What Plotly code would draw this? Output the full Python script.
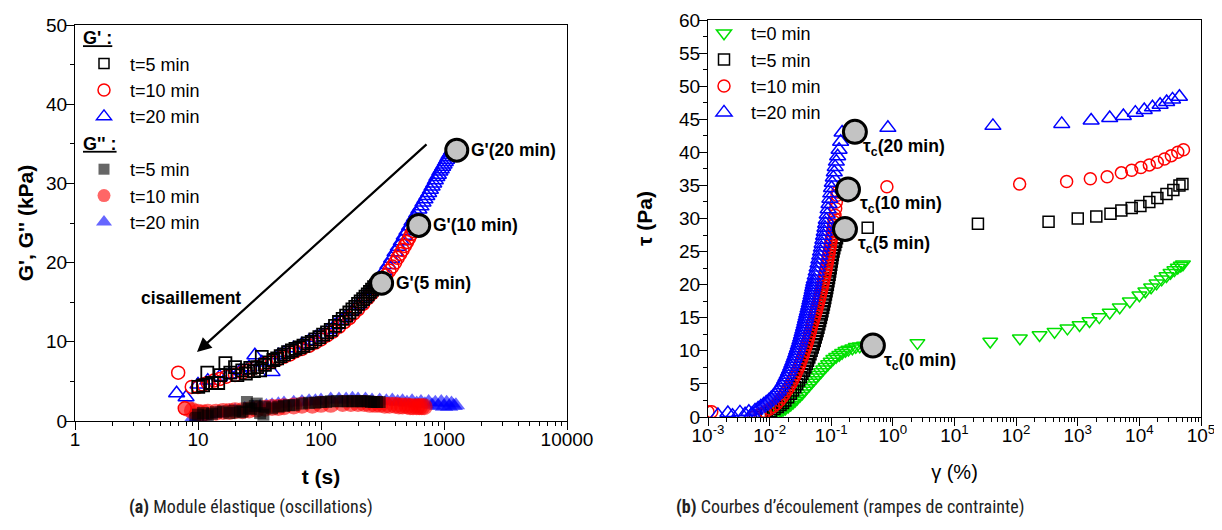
import math
import plotly.graph_objects as go

# ---------------- Left chart data: G', G'' vs t ----------------
# G' t=5 min (open black squares)
t_gp5 = [10.05, 11.0, 11.9, 13.0, 14.6, 15.2, 16.7, 18.3, 20.0, 20.9, 22.9, 24.5, 26.6, 28.5, 30.3, 32.0, 33.0, 35.0,
         38, 41, 44, 47, 50, 54, 58, 62, 67, 72, 78, 84, 90, 97, 104, 112, 120, 130, 140, 150, 160, 170, 180, 190,
         200, 210, 220, 230, 240, 250, 260, 270, 280, 290, 300]
gp5 = [4.3, 4.5, 6.1, 4.8, 4.8, 5.8, 7.3, 6.1, 6.8, 5.8, 6.4, 6.0, 6.7, 6.3, 6.8, 6.4, 8.1, 7.1,
       7.4, 7.7, 7.9, 8.2, 8.4, 8.7, 8.9, 9.1, 9.3, 9.5, 9.8, 10.0, 10.3, 10.6, 10.9, 11.2, 11.5, 12.0, 12.5, 12.9,
       13.3, 13.7, 14.1, 14.4, 14.8, 15.1, 15.4, 15.7, 16.0, 16.3, 16.6, 16.9, 17.1, 17.3, 17.5]

# G' t=10 min (open red circles)
t_gp10 = [6.9, 7.8, 8.9, 10, 11, 12, 13.5, 15, 17, 20, 23, 26, 30, 35, 40, 45, 50, 56, 62, 70, 80, 90, 100, 112, 125,
          140, 155, 170, 185, 200, 220, 240, 260, 280, 300, 320, 340, 360, 380, 400, 420, 440, 460, 480, 500, 520,
          540, 560, 580, 600]
gp10 = [6.1, 1.6, 4.3, 4.3, 4.6, 4.8, 5.1, 5.3, 5.6, 5.8, 6.1, 6.4, 6.8, 7.2, 7.5, 7.8, 8.1, 8.4, 8.8, 9.1, 9.5,
        9.9, 10.3, 10.8, 11.3, 11.9, 12.5, 13.0, 13.6, 14.1, 14.8, 15.5, 16.1, 16.7, 17.3, 17.9, 18.4, 19.0, 19.5,
        20.0, 20.6, 21.1, 21.6, 22.1, 22.6, 23.1, 23.6, 24.0, 24.4, 24.8]

# G' t=20 min (open blue triangles)
t_gp20 = [6.7, 8.0, 10, 12, 15, 18, 22, 26, 29, 33, 40, 45, 50, 60, 70, 80, 90, 100, 115, 130, 145, 160, 180, 200,
          225, 250, 275, 300, 325, 350, 375, 400, 425, 450, 475, 500, 525, 550, 575, 600, 625, 650, 675, 700, 725,
          750, 775, 800, 825, 850, 875, 900, 925, 950, 975, 1000, 1025, 1050, 1075, 1100, 1125, 1150, 1175, 1200,
          1230]
gp20 = [3.5, 3.0, 4.6, 5.1, 5.6, 5.9, 6.3, 6.8, 8.3, 7.4, 6.2, 8.3, 8.6, 9.2, 9.7, 10.1, 10.5, 10.9, 11.5, 12.1,
        12.7, 13.2, 13.9, 14.7, 15.6, 16.4, 17.2, 18.0, 18.9, 19.7, 20.5, 21.3, 22.0, 22.7, 23.4, 24.0, 24.6, 25.2,
        25.7, 26.2, 26.7, 27.1, 27.6, 28.0, 28.4, 28.8, 29.2, 29.6, 30.0, 30.4, 30.8, 31.1, 31.5, 31.8, 32.1, 32.4,
        32.7, 33.0, 33.3, 33.6, 33.8, 34.1, 34.3, 34.5, 34.6]

# G'' t=5 min (filled squares)
t_gs5 = [9.5, 10, 11, 12, 13, 14, 16, 18, 20, 22, 23, 25, 26, 27, 29, 30, 32, 34, 35, 40, 45, 50, 55, 60, 70, 80, 90,
         100, 110, 120, 135, 150, 165, 180, 195, 210, 225, 240, 255, 270, 285, 300]
gs5 = [0.4, 0.8, 1.0, 0.7, 0.9, 1.1, 1.2, 1.0, 1.3, 1.1, 1.2, 2.4, 1.6, 1.5, 1.9, 2.2, 1.0, 0.8, 1.8, 1.6, 1.8,
       1.9, 2.0, 2.0, 2.2, 2.3, 2.3, 2.4, 2.4, 2.5, 2.5, 2.5, 2.5, 2.5, 2.5, 2.5, 2.5, 2.5, 2.4, 2.4, 2.4, 2.4]

# G'' t=10 min (filled circles)
t_gs10 = [8.2, 9, 10, 11, 12, 14, 16, 18, 20, 23, 26, 30, 35, 40, 45, 50, 60, 70, 85, 100, 120, 150, 175, 200, 225,
          250, 275, 300, 330, 360, 400, 430, 460, 500, 530, 560, 600, 630, 660, 690]
gs10 = [1.6, 1.3, 1.1, 1.0, 1.1, 1.1, 1.2, 1.2, 1.3, 1.3, 1.4, 1.5, 1.6, 1.7, 1.7, 1.8, 1.9, 2.0, 2.0, 2.1, 2.1,
        2.2, 2.2, 2.2, 2.2, 2.1, 2.1, 2.1, 2.0, 2.0, 2.0, 1.9, 1.9, 1.9, 1.8, 1.8, 1.8, 1.8, 1.8, 1.8]

# G'' t=20 min (filled triangles)
t_gs20 = [9, 10, 11, 12, 14, 16, 18, 20, 24, 28, 32, 36, 40, 45, 50, 60, 70, 80, 90, 100, 120, 140, 160, 180, 200,
          230, 260, 300, 340, 380, 420, 460, 500, 550, 600, 650, 700, 750, 800, 850, 900, 950, 1000, 1050, 1100,
          1150, 1200, 1250]
gs20 = [0.3, 0.5, 0.6, 0.8, 0.9, 1.0, 1.2, 1.3, 1.5, 1.7, 1.8, 1.9, 2.0, 2.1, 2.2, 2.3, 2.4, 2.5, 2.5, 2.6, 2.7,
        2.7, 2.7, 2.8, 2.7, 2.7, 2.6, 2.6, 2.5, 2.6, 2.4, 2.5, 2.3, 2.5, 2.2, 2.4, 2.1, 2.4, 2.0, 2.3, 1.9, 2.4,
        1.8, 2.3, 1.8, 2.2, 1.9, 2.0]

# Critical points G'(t) (grey circles) and labels
gc_t = [311, 623, 1270]
gc_val = [17.4, 24.7, 34.2]
gc_labels = ["G'(5 min)", "G'(10 min)", "G'(20 min)"]

# ---------------- Right chart data: tau vs gamma ----------------
# t=0 min (open green down-triangles)
g0 = [0.011, 0.012, 0.0135, 0.015, 0.0165, 0.018, 0.020, 0.022, 0.024, 0.026, 0.028, 0.031, 0.034, 0.037, 0.040,
      0.044, 0.048, 0.052, 0.057, 0.062, 0.068, 0.074, 0.081, 0.089, 0.098, 0.108, 0.12, 0.135, 0.15, 0.17, 0.19,
      0.22, 0.25, 0.29, 0.34, 0.40, 2.5, 38, 115, 240, 420, 680, 1070, 1550, 2240, 3300, 4800, 7000, 10000,
      12500, 15500, 19000, 23000, 27500, 32000, 37000, 42000, 47000, 51000]
tau0 = [0.3, 0.5, 0.7, 0.9, 1.1, 1.3, 1.6, 1.9, 2.2, 2.5, 2.8, 3.2, 3.6, 4.0, 4.4, 4.8, 5.2, 5.6, 6.0, 6.4, 6.8,
        7.2, 7.6, 8.0, 8.4, 8.8, 9.1, 9.4, 9.7, 10.0, 10.2, 10.4, 10.6, 10.7, 10.8, 10.9, 11.2, 11.4, 11.9, 12.4,
        12.9, 13.4, 13.9, 14.5, 15.1, 15.8, 16.6, 17.5, 18.4, 19.0, 19.6, 20.2, 20.8, 21.3, 21.8, 22.2, 22.6,
        22.9, 23.1]

# t=5 min (open black squares)
g5 = [0.0058, 0.0075, 0.009, 0.0105, 0.012, 0.0135, 0.015, 0.0165, 0.018, 0.020, 0.022, 0.024, 0.026, 0.028,
      0.030, 0.032, 0.034, 0.036, 0.038, 0.040, 0.042, 0.044, 0.046, 0.048, 0.050, 0.052, 0.054, 0.056, 0.058,
      0.060, 0.062, 0.064, 0.066, 0.068, 0.070, 0.072, 0.074, 0.076, 0.078, 0.080, 0.082, 0.084, 0.086, 0.088,
      0.090, 0.092, 0.094, 0.096, 0.098, 0.100, 0.102, 0.104, 0.106, 0.109, 0.112, 0.116, 0.120, 0.124,
      0.39, 24, 336, 1000, 2000, 3400, 5100, 7500, 10400, 14500, 19600, 27500, 35600, 44700, 50000]
tau5 = [0.0, 0.3, 0.6, 0.9, 1.2, 1.5, 1.8, 2.1, 2.5, 3.0, 3.5, 4.0, 4.5, 5.0, 5.5, 6.0, 6.5, 7.0, 7.5, 8.0, 8.5,
        9.0, 9.5, 10.0, 10.5, 11.0, 11.5, 12.0, 12.5, 13.0, 13.5, 14.0, 14.5, 15.0, 15.5, 16.0, 16.5, 17.0, 17.5,
        18.0, 18.5, 19.0, 19.5, 20.0, 20.5, 21.0, 21.5, 22.0, 22.5, 23.0, 23.5, 24.0, 24.5, 25.0, 25.5, 26.0,
        26.5, 27.0, 28.6, 29.2, 29.5, 30.0, 30.3, 30.7, 31.2, 31.6, 31.9, 32.5, 33.1, 33.7, 34.3, 35.0, 35.2]

# t=10 min (open red circles)
g10 = [0.001, 0.00115, 0.0055, 0.007, 0.0085, 0.010, 0.0115, 0.013, 0.0145, 0.016, 0.0175, 0.019, 0.0205, 0.022,
       0.0235, 0.025, 0.0265, 0.028, 0.0295, 0.031, 0.0325, 0.034, 0.0355, 0.037, 0.0385, 0.040, 0.0415, 0.043,
       0.0445, 0.046, 0.0475, 0.049, 0.051, 0.053, 0.055, 0.057, 0.059, 0.061, 0.063, 0.065, 0.067, 0.069, 0.071,
       0.073, 0.075, 0.077, 0.079, 0.081, 0.083, 0.085, 0.087, 0.089, 0.091, 0.093, 0.095, 0.097, 0.099, 0.101,
       0.103, 0.105, 0.107, 0.109, 0.111, 0.113, 0.115, 0.118, 0.121, 0.124, 0.127,
       0.80, 114, 660, 1600, 3000, 5100, 7500, 10600, 14500, 19500, 25500, 33000, 42000, 52000]
tau10 = [0.8, 0.8, 0.0, 0.4, 0.8, 1.2, 1.6, 2.0, 2.5, 3.0, 3.5, 4.0, 4.5, 5.0, 5.5, 6.0, 6.5, 7.0, 7.5, 8.0, 8.5,
         9.0, 9.5, 10.0, 10.5, 11.0, 11.5, 12.0, 12.5, 13.0, 13.5, 14.0, 14.5, 15.0, 15.5, 16.0, 16.5, 17.0,
         17.5, 18.0, 18.5, 19.0, 19.5, 20.0, 20.5, 21.0, 21.5, 22.0, 22.5, 23.0, 23.5, 24.0, 24.5, 25.0, 25.5,
         26.0, 26.5, 27.0, 27.5, 28.0, 28.5, 29.0, 29.5, 30.0, 30.5, 31.5, 32.5, 33.5, 34.0,
         34.8, 35.2, 35.6, 36.0, 36.3, 36.9, 37.3, 37.7, 38.1, 38.5, 39.0, 39.5, 40.0, 40.4]

# t=20 min (open blue triangles)
g20 = [0.00145, 0.0021, 0.0025, 0.0033, 0.0040, 0.0046, 0.0052, 0.0058, 0.0065, 0.0072, 0.0080, 0.0088, 0.0097,
       0.0105, 0.0113, 0.0121, 0.013, 0.0139, 0.0148, 0.0157, 0.0166, 0.0175, 0.0184, 0.0193, 0.0202, 0.0211,
       0.022, 0.0229, 0.0238, 0.0247, 0.0256, 0.0265, 0.0274, 0.0283, 0.0292, 0.0301, 0.031, 0.0319, 0.0328,
       0.0337, 0.0346, 0.0355, 0.0364, 0.0373, 0.0382, 0.0391, 0.040, 0.041, 0.042, 0.043, 0.044, 0.045, 0.046,
       0.047, 0.048, 0.049, 0.050, 0.051, 0.052, 0.053, 0.055, 0.057, 0.059, 0.061, 0.063, 0.065, 0.067, 0.069,
       0.071, 0.073, 0.075, 0.077, 0.079, 0.081, 0.083, 0.086, 0.089, 0.092, 0.095, 0.098, 0.101, 0.104, 0.108,
       0.112, 0.116, 0.121, 0.127, 0.134, 0.142, 0.150,
       0.83, 42, 550, 1650, 3300, 5500, 8600, 12000, 16300, 21700, 27700, 34500, 44700]
tau20 = [0.3, 0.6, 0.2, 0.7, 0.4, 0.8, 0.5, 1.0, 1.3, 1.6, 1.9, 2.2, 2.5, 2.8, 3.1, 3.4, 3.7, 4.0, 4.4, 4.8,
         5.2, 5.6, 6.0, 6.4, 6.8, 7.2, 7.6, 8.0, 8.4, 8.8, 9.2, 9.6, 10.0, 10.4, 10.8, 11.2, 11.6, 12.0, 12.4,
         12.8, 13.2, 13.6, 14.0, 14.4, 14.8, 15.2, 15.6, 16.0, 16.4, 16.8, 17.2, 17.6, 18.0, 18.4, 18.8, 19.2,
         19.6, 20.0, 20.4, 20.8, 21.4, 22.0, 22.6, 23.2, 23.8, 24.4, 25.0, 25.6, 26.2, 26.8, 27.4, 28.0, 28.6,
         29.2, 29.8, 30.6, 31.4, 32.2, 33.0, 33.8, 34.6, 35.4, 36.2, 37.0, 37.8, 38.6, 39.4, 40.4, 41.6, 43.0,
         43.7, 44.0, 44.3, 44.8, 45.2, 45.5, 46.0, 46.4, 46.8, 47.2, 47.6, 48.0, 48.4]

# Critical stresses (grey circles) and labels
tc_gamma = [0.474, 0.167, 0.187, 0.242]
tc_tau = [10.8, 28.4, 34.4, 43.1]
tc_labels = ["0 min", "5 min", "10 min", "20 min"]

FONT = "Liberation Sans, Arial, sans-serif"
W, H = 1222, 530
OFF = 8  # page body margin offset


def px_x(p):
    return (p - OFF) / W


def px_y(p):
    return 1 - (p - OFF) / H


fig = go.Figure()


def add(x, y, xa, ya, symbol, color, size, fill=None, lw=1.5, name=None, legend=None, group=None, show=False,
        gtitle=None):
    if fill is None:
        marker = dict(symbol=symbol + "-open", size=size, color=color, line=dict(width=lw, color=color))
    else:
        marker = dict(symbol=symbol, size=size, color=fill, line=dict(width=0))
    kw = {}
    if gtitle is not None:
        kw["legendgrouptitle"] = dict(text=gtitle, font=dict(family=FONT, size=18, color="black"))
    fig.add_trace(go.Scatter(x=x, y=y, mode="markers", marker=marker, xaxis=xa, yaxis=ya, name=name,
                             showlegend=show, legend=legend, legendgroup=group, **kw))


# legend-only entries (left chart)
add([None], [None], "x", "y", "square", "black", 10, name="t=5 min", legend="legend", group="gp", show=True,
    gtitle="<b><u>G' :</u></b>")
add([None], [None], "x", "y", "circle", "red", 12, name="t=10 min", legend="legend", group="gp", show=True)
add([None], [None], "x", "y", "triangle-up", "blue", 13, name="t=20 min", legend="legend", group="gp", show=True)
add([None], [None], "x", "y", "square", "black", 11, fill="rgba(0,0,0,0.6)", name="t=5 min", legend="legend",
    group="gs", show=True, gtitle="<b><u>G'' :</u></b>")
add([None], [None], "x", "y", "circle", "red", 13, fill="rgba(255,0,0,0.6)", name="t=10 min", legend="legend",
    group="gs", show=True)
add([None], [None], "x", "y", "triangle-up", "blue", 14, fill="rgba(0,0,255,0.6)", name="t=20 min",
    legend="legend", group="gs", show=True)

# left chart data (draw order: blue, red, black)
add(t_gs20, gs20, "x", "y", "triangle-up", "blue", 16, fill="rgba(0,0,255,0.6)")
add(t_gs10, gs10, "x", "y", "circle", "red", 17, fill="rgba(255,0,0,0.6)")
add(t_gs5, gs5, "x", "y", "square", "black", 12, fill="rgba(0,0,0,0.6)")
add(t_gp20, gp20, "x", "y", "triangle-up", "blue", 14)
add(t_gp10, gp10, "x", "y", "circle", "red", 13)
add(t_gp5, gp5, "x", "y", "square", "black", 12, lw=1.8)

# left critical points
fig.add_trace(go.Scatter(x=gc_t, y=gc_val, mode="markers", xaxis="x", yaxis="y", showlegend=False,
                         marker=dict(symbol="circle", size=22, color="#c3c3c3", line=dict(width=3, color="black"))))

# right chart: data (green, black, red, blue) with legend2 entries
add(g0, tau0, "x2", "y2", "triangle-down", "#00e000", 13, name="t=0 min", legend="legend2", show=True)
add(g5, tau5, "x2", "y2", "square", "black", 11, name="t=5 min", legend="legend2", show=True)
add(g10, tau10, "x2", "y2", "circle", "red", 12, name="t=10 min", legend="legend2", show=True)
add(g20, tau20, "x2", "y2", "triangle-up", "blue", 14, name="t=20 min", legend="legend2", show=True)

fig.add_trace(go.Scatter(x=tc_gamma, y=tc_tau, mode="markers", xaxis="x2", yaxis="y2", showlegend=False,
                         marker=dict(symbol="circle", size=23, color="#c3c3c3", line=dict(width=3, color="black"))))

annotations = []
for tv, gv, lab in zip(gc_t, gc_val, gc_labels):
    annotations.append(dict(x=math.log10(tv), y=gv, xref="x", yref="y", text="<b>" + lab + "</b>",
                            showarrow=False, xanchor="left", yanchor="middle", xshift=12,
                            font=dict(family=FONT, size=17.5, color="black")))
tc_shift = [(9, -16), (11, -15), (10, -15), (6, -16)]
for gv, tv, lab, (dx, dy) in zip(tc_gamma, tc_tau, tc_labels, tc_shift):
    annotations.append(dict(x=math.log10(gv), y=tv, xref="x2", yref="y2",
                            text="<b>τ<sub>c</sub>(" + lab + ")</b>",
                            showarrow=False, xanchor="left", yanchor="middle", xshift=dx, yshift=dy,
                            font=dict(family=FONT, size=17.5, color="black")))
# shear arrow
annotations.append(dict(x=0.992, y=8.7, ax=2.87, ay=35.1, xref="x", yref="y", axref="x", ayref="y",
                        showarrow=True, arrowhead=2, arrowsize=1.3, arrowwidth=2.2, arrowcolor="black", text=""))
annotations.append(dict(x=0.943, y=15.5, xref="x", yref="y", text="<b>cisaillement</b>", showarrow=False,
                        font=dict(family=FONT, size=17.5, color="black")))
# captions
CAP = "Liberation Sans Narrow, Roboto Condensed, Open Sans, sans-serif"
annotations.append(dict(x=px_x(251), y=px_y(507), xref="paper", yref="paper", xanchor="center",
                        yanchor="middle", text="<b>(a)</b> Module élastique (oscillations)", showarrow=False,
                        font=dict(family=CAP, size=18, color="#222")))
annotations.append(dict(x=px_x(850), y=px_y(507), xref="paper", yref="paper", xanchor="center",
                        yanchor="middle", text="<b>(b)</b> Courbes d’écoulement (rampes de contrainte)",
                        showarrow=False, font=dict(family=CAP, size=18, color="#222")))

axis_common = dict(showline=True, linecolor="black", linewidth=1.3, mirror=True, ticks="outside", ticklen=8,
                   tickwidth=1.3, tickcolor="black", showgrid=False, zeroline=False, automargin=False,
                   tickfont=dict(family=FONT, size=19, color="black"))
minor_common = dict(ticks="outside", ticklen=4, tickwidth=1.2, tickcolor="black", showgrid=False)
TFONT = dict(family=FONT, size=21, color="black")

fig.update_layout(
    width=W, height=H, autosize=False, margin=dict(l=0, r=0, t=0, b=0, autoexpand=False),
    paper_bgcolor="white", plot_bgcolor="white",
    xaxis=dict(type="log", range=[0, 4], domain=[px_x(75), px_x(567)], anchor="y",
               tickvals=[1, 10, 100, 1000, 10000], ticktext=["1", "10", "100", "1000", "10000"],
               minor=dict(dtick="D1", **minor_common), ticklabelstandoff=-7,
               title=dict(text="<b>t (s)</b>", font=TFONT, standoff=20),
               **axis_common),
    yaxis=dict(range=[0, 50], domain=[px_y(421), px_y(25)], anchor="x", dtick=10, tick0=0,
               minor=dict(dtick=5, **minor_common), ticklabelstandoff=-5,
               title=dict(text="<b>G', G'' (kPa)</b>", font=TFONT, standoff=6),
               **axis_common),
    xaxis2=dict(type="log", range=[-3, 5], domain=[px_x(708), px_x(1201)], anchor="y2",
                tickvals=[10 ** k for k in range(-3, 6)],
                ticktext=["10<sup>%d</sup>" % k for k in range(-3, 6)],
                minor=dict(dtick="D1", **minor_common), ticklabelstandoff=-7,
                title=dict(text="γ (%)", font=dict(family=FONT, size=20, color="black"), standoff=20),
                **axis_common),
    yaxis2=dict(range=[0, 60], domain=[px_y(417), px_y(20)], anchor="x2", dtick=5, tick0=0,
                minor=dict(dtick=2.5, **minor_common), ticklabelstandoff=-5,
                title=dict(text="<b>τ (Pa)</b>", font=TFONT, standoff=20),
                **axis_common),
    legend=dict(x=px_x(78), y=px_y(19), xanchor="left", yanchor="top", bgcolor="rgba(0,0,0,0)",
                font=dict(family=FONT, size=18, color="black"), traceorder="grouped", tracegroupgap=0,
                itemsizing="trace", itemwidth=42),
    legend2=dict(x=px_x(697), y=px_y(15), xanchor="left", yanchor="top", bgcolor="rgba(0,0,0,0)",
                 font=dict(family=FONT, size=18, color="black"), itemsizing="trace", itemwidth=44),
    annotations=annotations,
)

fig.write_html("out.html")
